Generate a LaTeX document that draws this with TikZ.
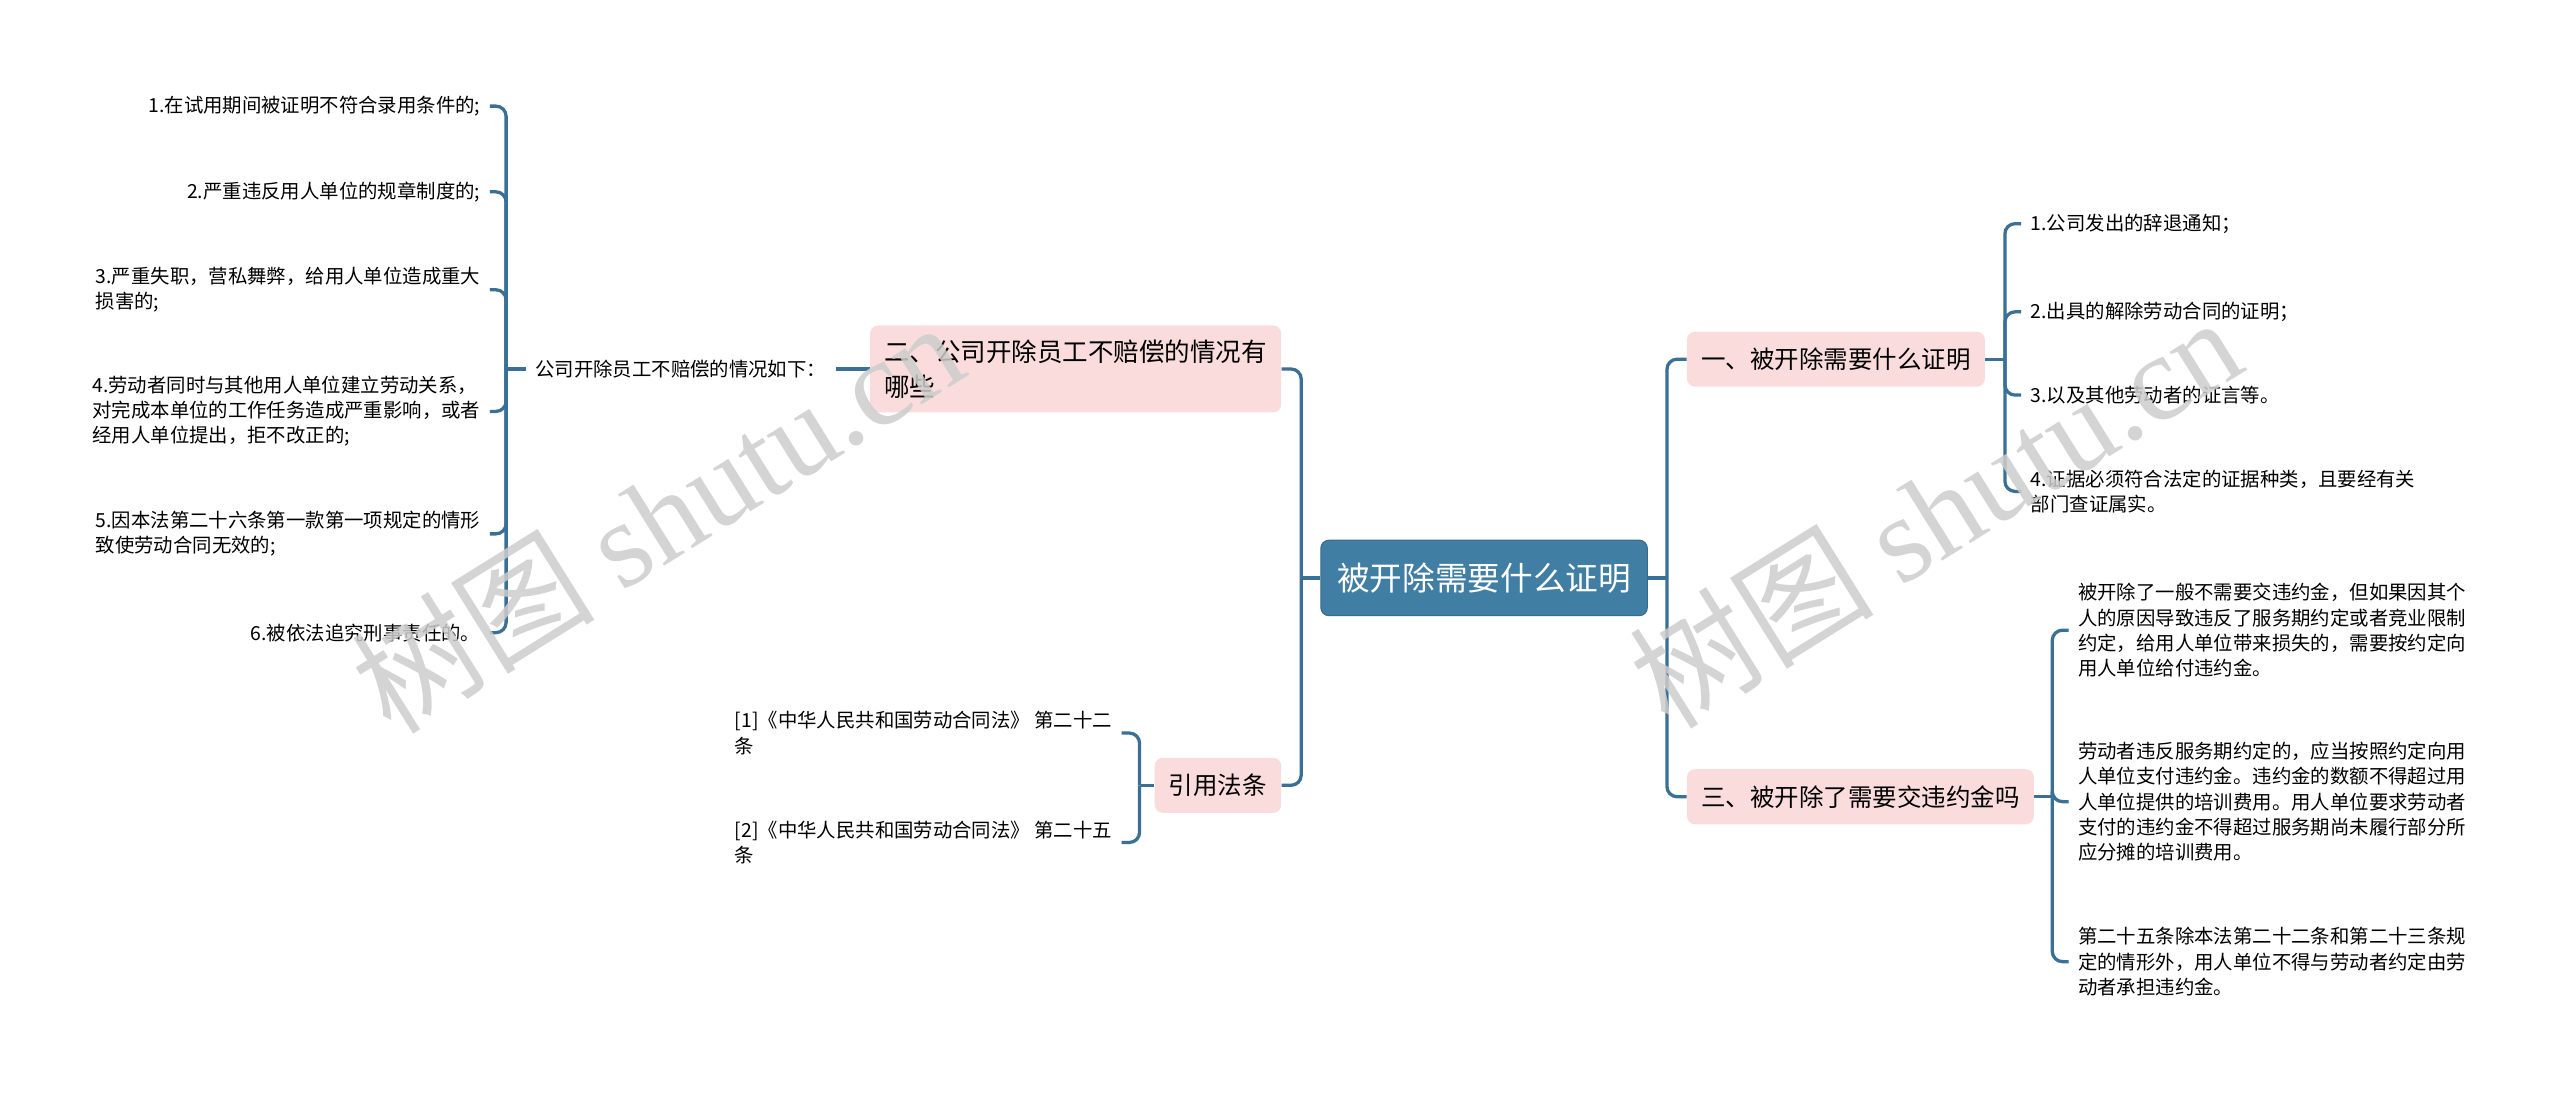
\documentclass[tikz,border=0pt]{standalone}
\usepackage{fontspec}
\setmainfont{Noto Sans CJK SC}
\newfontfamily\wmfont{Liberation Serif}
\usetikzlibrary{positioning,calc}
\definecolor{MapBlue}{RGB}{65,126,164}
\definecolor{LineBlue}{RGB}{58,112,150}
\definecolor{SoftPink}{RGB}{250,220,220}
\definecolor{WmGray}{RGB}{205,205,205}
\tikzset{
  root/.style={rectangle,rounded corners=4pt,fill=MapBlue,draw=MapBlue!85!black,line width=0.5pt,
    text=white,font=\fontsize{16}{19}\selectfont,inner xsep=8pt,minimum height=37pt},
  topic/.style={rectangle,rounded corners=4pt,fill=SoftPink,inner xsep=7pt,inner ysep=7pt,
    minimum height=27pt,align=left,font=\fontsize{12}{17}\selectfont},
  leaf/.style={inner xsep=4.5pt,inner ysep=2pt,align=left,font=\fontsize{9.5}{12.3}\selectfont},
  conn/.style={draw=LineBlue,line width=1.6pt,rounded corners=5pt},
}
\tikzset{wmark/.style={text=WmGray,opacity=0.85,font=\fontsize{60}{62}\selectfont,rotate=32}}

\begin{document}
\begin{tikzpicture}[x=0.8pt,y=-0.8pt]
\useasboundingbox (0,0) rectangle (1568,669);
% centre
\node[root] (r) at (909,354) {被开除需要什么证明};
% right side
\node[topic,anchor=west] (a) at (1033,220) {一、被开除需要什么证明};
\node[topic,anchor=west] (c) at (1033,488) {三、被开除了需要交违约金吗};
\node[leaf,anchor=west] (a1) at (1238,137) {1.公司发出的辞退通知；};
\node[leaf,anchor=west] (a2) at (1238,191) {2.出具的解除劳动合同的证明；};
\node[leaf,anchor=west] (a3) at (1238,242) {3.以及其他劳动者的证言等。};
\node[leaf,anchor=west] (a4) at (1238,301) {4.证据必须符合法定的证据种类，且要经有关\\部门查证属实。};
\node[leaf,anchor=west] (c1) at (1267,386) {被开除了一般不需要交违约金，但如果因其个\\人的原因导致违反了服务期约定或者竞业限制\\约定，给用人单位带来损失的，需要按约定向\\用人单位给付违约金。};
\node[leaf,anchor=west] (c2) at (1267,491) {劳动者违反服务期约定的，应当按照约定向用\\人单位支付违约金。违约金的数额不得超过用\\人单位提供的培训费用。用人单位要求劳动者\\支付的违约金不得超过服务期尚未履行部分所\\应分摊的培训费用。};
\node[leaf,anchor=west] (c3) at (1267,589) {第二十五条除本法第二十二条和第二十三条规\\定的情形外，用人单位不得与劳动者约定由劳\\动者承担违约金。};
% left side
\node[topic,anchor=east,font=\fontsize{12.5}{17}\selectfont] (b) at (785,226) {二、公司开除员工不赔偿的情况有\\哪些};
\node[topic,anchor=east] (d) at (785,481) {引用法条};
\node[leaf,anchor=west] (bm) at (322,226) {公司开除员工不赔偿的情况如下：};
\node[leaf,anchor=east] (b1) at (300,65) {1.在试用期间被证明不符合录用条件的;};
\node[leaf,anchor=east] (b2) at (300,117.5) {2.严重违反用人单位的规章制度的;};
\node[leaf,anchor=east] (b3) at (300,177.5) {3.严重失职，营私舞弊，给用人单位造成重大\\损害的;};
\node[leaf,anchor=east] (b4) at (300,252) {4.劳动者同时与其他用人单位建立劳动关系，\\对完成本单位的工作任务造成严重影响，或者\\经用人单位提出，拒不改正的;};
\node[leaf,anchor=east] (b5) at (300,327) {5.因本法第二十六条第一款第一项规定的情形\\致使劳动合同无效的;};
\node[leaf,anchor=east] (b6) at (300,387.5) {6.被依法追究刑事责任的。};
\node[leaf,anchor=east] (d1) at (687,449) {[1]《中华人民共和国劳动合同法》 第二十二\\条};
\node[leaf,anchor=east] (d2) at (687,516) {[2]《中华人民共和国劳动合同法》 第二十五\\条};
% junctions
\coordinate (rj) at (1021,354);
\coordinate (lj) at (797,354);
\coordinate (aj) at (1228,220);
\coordinate (cj) at (1257,488);
\coordinate (bj) at (310,226);
\coordinate (dj) at (698,481);
% connectors
\draw[conn] (r.east) -- (rj);
\draw[conn] (rj) |- (a.west);
\draw[conn] (rj) |- (c.west);
\draw[conn] (r.west) -- (lj);
\draw[conn] (lj) |- (b.east);
\draw[conn] (lj) |- (d.east);
\draw[conn] (a.east) -- (aj);
\draw[conn] (aj) |- (a1.west);
\draw[conn] (aj) |- (a2.west);
\draw[conn] (aj) |- (a3.west);
\draw[conn] (aj) |- (a4.west);
\draw[conn] (c.east) -- (cj);
\draw[conn] (cj) |- (c1.west);
\draw[conn] (cj) |- (c2.west);
\draw[conn] (cj) |- (c3.west);
\draw[conn] (b.west) -- (bm.east);
\draw[conn] (bm.west) -- (bj);
\draw[conn] (bj) |- (b1.east);
\draw[conn] (bj) |- (b2.east);
\draw[conn] (bj) |- (b3.east);
\draw[conn] (bj) |- (b4.east);
\draw[conn] (bj) |- (b5.east);
\draw[conn] (bj) |- (b6.east);
\draw[conn] (d.west) -- (dj);
\draw[conn] (dj) |- (d1.east);
\draw[conn] (dj) |- (d2.east);
% watermark
\node[wmark] (w1) at (402,316) {树图 {\wmfont shutu.cn}};
\node[wmark] (w2) at (1185,313) {树图 {\wmfont shutu.cn}};
\end{tikzpicture}
\end{document}
